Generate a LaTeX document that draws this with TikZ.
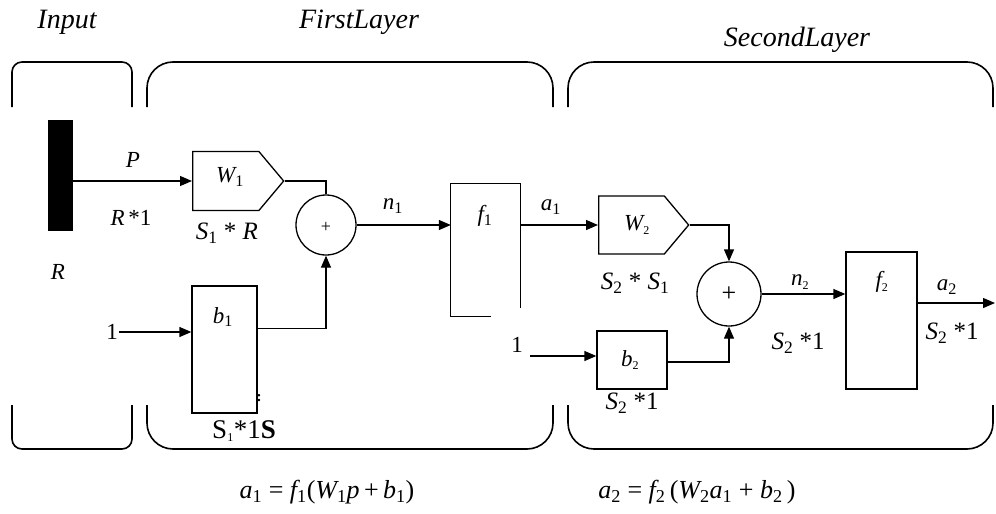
\documentclass[tikz,border=0pt]{standalone}
\usepackage{fontspec}
\setmainfont{Liberation Serif}
\usetikzlibrary{arrows.meta,shapes.symbols,calc}
\newcommand{\sbs}[1]{\textsubscript{\upshape #1}}
\newcommand{\ssb}[1]{\textsubscript{\upshape\fontsize{12}{12}\selectfont #1}}
\begin{document}
\begin{tikzpicture}[x=1pt,y=-1pt,
  bracket/.style={line width=1.6pt, rounded corners=26pt},
  smallbracket/.style={line width=1.6pt, rounded corners=10pt},
  ln/.style={line width=1.3pt},
  arr/.style={ln,-{Triangle[length=12pt,width=10pt]}},
  blk/.style={draw,line width=1.3pt,inner sep=0pt},
  lbl/.style={font=\fontsize{23}{25}\selectfont\itshape,inner sep=1pt},
  rlbl/.style={font=\fontsize{25}{27}\selectfont,inner sep=1pt},
  ttl/.style={font=\fontsize{28}{30}\selectfont\itshape,inner sep=0pt},
  eq/.style={font=\fontsize{26}{28}\selectfont,inner sep=0pt},
  sig/.style={blk,shape=signal,signal to=east,signal pointer angle=100,anchor=west}]
\useasboundingbox (0,0) rectangle (996,514);

% layer brackets
\draw[smallbracket] (12,107) -- (12,62) -- (132,62) -- (132,107);
\draw[smallbracket] (12,405) -- (12,449) -- (132,449) -- (132,405);
\draw[bracket] (147,107) -- (147,62) -- (553,62) -- (553,107);
\draw[bracket] (147,405) -- (147,449) -- (553,449) -- (553,405);
\draw[bracket] (568,107) -- (568,62) -- (993,62) -- (993,107);
\draw[bracket] (568,405) -- (568,449) -- (993,449) -- (993,405);

% titles
\node[ttl] (tIn) at (67,22) {Input};
\node[ttl] (tL1) at (359,22) {FirstLayer};
\node[ttl] (tL2) at (797,40) {SecondLayer};

% input bar
\node[fill=black,minimum width=25,minimum height=111,inner sep=0pt] (bar) at (60.5,175.5) {};
\node[lbl] (lP) at (133,160) {P};
\node[lbl] (lR1) at (131,218) {R\,\upshape*1};
\node[lbl] (lR) at (58,272) {R};

% first layer
\node[sig,minimum width=91,minimum height=59] (W1) at (192,181) {};
\node[lbl] (W1t) at (230,177) {W\sbs{1}};
\node[rlbl] (lS1R) at (227,233) {\itshape S\sbs{1} \upshape* \itshape R};
\node[blk,circle,minimum size=60] (s1) at (326,225) {};
\node[font=\fontsize{18}{20}\selectfont] (s1t) at (326,227) {+};
\node[blk,minimum width=65,minimum height=127] (b1) at (224.5,349.5) {};
\node[lbl] (b1t) at (223,317) {b\sbs{1}};
\node[rlbl,font=\fontsize{27}{29}\selectfont] (lb1) at (244,431) {S\ssb{1}*1\textbf{S}};
\node[font=\bfseries\fontsize{15}{15}\selectfont,inner sep=0pt] (mark) at (259,398) {:};
\node[rlbl,font=\fontsize{23}{25}\selectfont] (one1) at (112,332) {1};
\node[lbl] (ln1) at (393,206) {n\sbs{1}};

\node[minimum width=69,minimum height=132,inner sep=0pt] (f1) at (485.5,250) {};
\draw[ln] ($(f1.south west)+(40,0)$) -- (f1.south west) -- (f1.north west) -- (f1.north east) -- ($(f1.south east)+(0,-8)$);
\node[lbl] (f1t) at (485,216) {f\sbs{1}};
\node[lbl] (la1) at (551,207) {a\sbs{1}};

% second layer
\node[sig,minimum width=90,minimum height=58] (W2) at (598,225) {};
\node[lbl] (W2t) at (637,225) {W\ssb{2}};
\node[rlbl] (lS2S1) at (635,283) {\itshape S\sbs{2} \upshape* \itshape S\sbs{1}};
\node[blk,circle,minimum size=64] (s2) at (729,294) {};
\node[font=\fontsize{26}{28}\selectfont] (s2t) at (729,294) {+};
\node[blk,minimum width=70,minimum height=58] (b2) at (632,360) {};
\node[lbl] (b2t) at (630,360) {b\ssb{2}};
\node[rlbl] (lb2) at (632,403) {\itshape S\sbs{2} \upshape*1};
\node[rlbl,font=\fontsize{23}{25}\selectfont] (one2) at (517,345) {1};
\coordinate (in2) at (530,356);
\node[lbl] (ln2) at (800,282) {n\ssb{2}};
\node[rlbl] (ln2s) at (798,343) {\itshape S\sbs{2} \upshape*1};
\node[blk,minimum width=71,minimum height=137] (f2) at (881.5,320.5) {};
\node[lbl] (f2t) at (882,282) {f\ssb{2}};
\coordinate (out) at (995,303);
\node[lbl] (la2) at (947,287) {a\sbs{2}};
\node[rlbl] (la2s) at (952,333) {\itshape S\sbs{2} \upshape*1};

% connectors
\draw[arr] (bar.east |- W1.west) -- (W1.west);
\draw[ln] (W1.east) -| (s1.north);
\draw[arr] (one1.east) -- (b1.west |- one1.east);
\draw[arr] ([yshift=21pt]b1.east) -| (s1.south);
\draw[arr] (s1.east) -- (f1.west |- s1.east);
\draw[arr] (f1.east |- W2.west) -- (W2.west);
\draw[arr] (W2.east) -| (s2.north);
\draw[arr] (in2) -- (b2.west |- in2);
\draw[arr] ([yshift=-2pt]b2.east) -| (s2.south);
\draw[arr] (s2.east) -- (f2.west |- s2.east);
\draw[arr] (f2.east |- out) -- (out);

% equations
\node[eq] (eq1) at (327,492) {\itshape a\sbs{1} \upshape= \itshape f\sbs{1}\upshape(\itshape W\sbs{1}p\,\upshape+\,\itshape b\sbs{1}\upshape)};
\node[eq] (eq2) at (697,492) {\itshape a\sbs{2} \upshape= \itshape f\sbs{2}\,\upshape(\itshape W\sbs{2}a\sbs{1} \upshape+ \itshape b\sbs{2}\,\upshape)};
\end{tikzpicture}
\end{document}
